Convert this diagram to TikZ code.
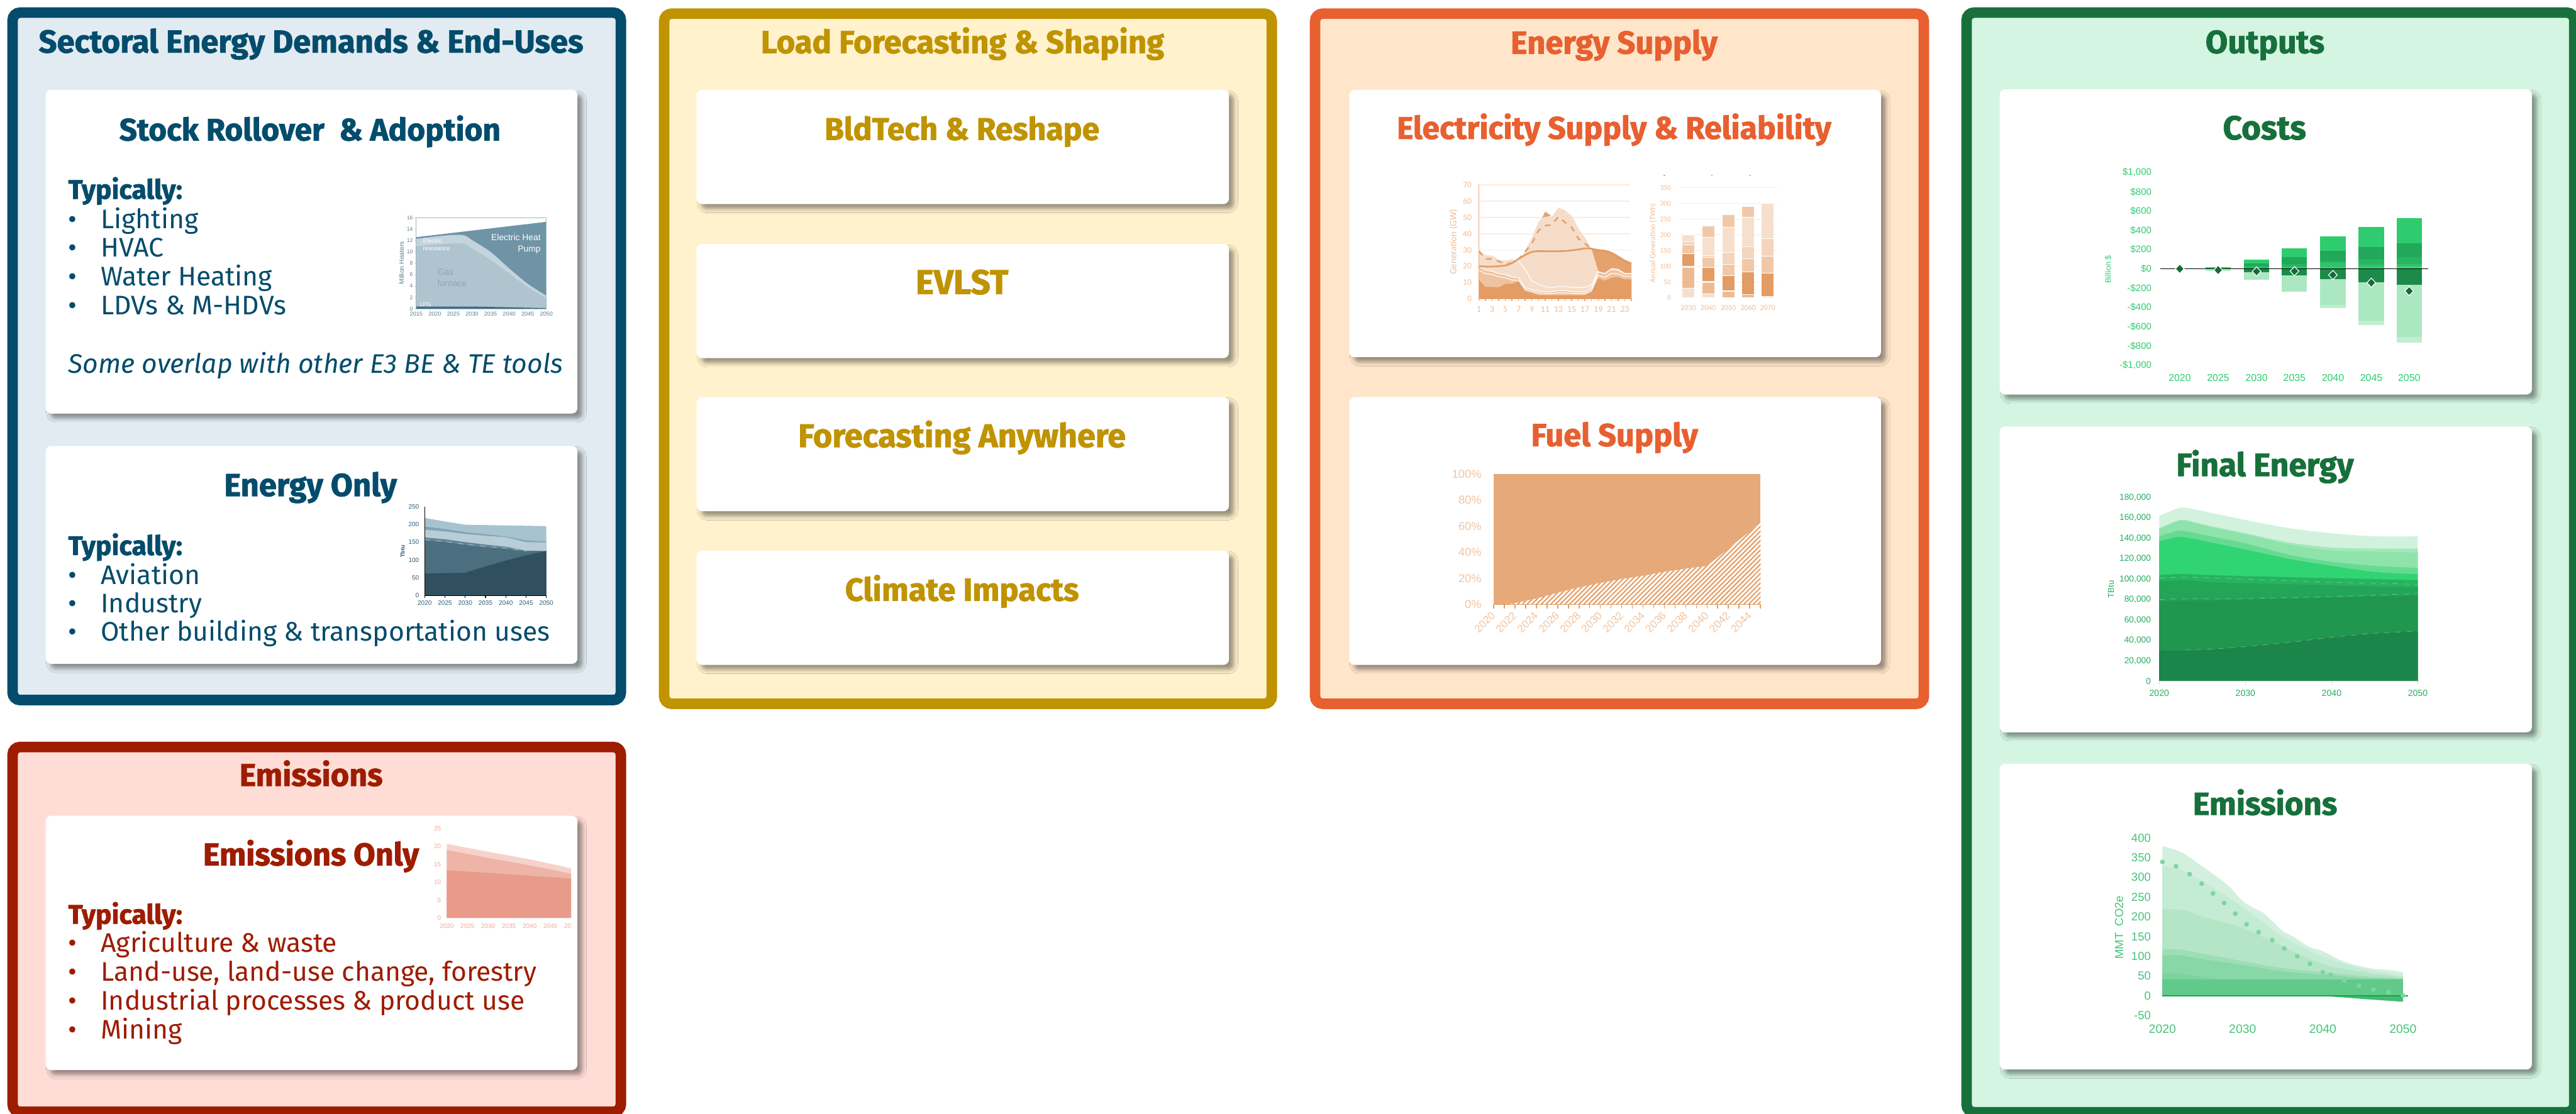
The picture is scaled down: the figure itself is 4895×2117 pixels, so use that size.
\documentclass[tikz,border=0pt]{standalone}
\usepackage{fontspec}
\usepackage{graphicx}
\setmainfont{Fira Sans}
\newfontfamily\headfont{Fira Sans}[BoldFeatures={FakeBold=1.6}]
\newfontfamily\chartfont{Liberation Sans}
\newfontfamily\calfont{Carlito}
\usetikzlibrary{shadows.blur,patterns.meta,shapes.geometric}

% panel colours
\definecolor{sectline}{HTML}{044C6C}
\definecolor{sectfill}{HTML}{E1EBF1}
\definecolor{emline}{HTML}{9E1C00}
\definecolor{emfill}{HTML}{FFDDD6}
\definecolor{loadline}{HTML}{C09300}
\definecolor{loadfill}{HTML}{FFF2CC}
\definecolor{supline}{HTML}{E85F30}
\definecolor{supfill}{HTML}{FFE6CA}
\definecolor{outline}{HTML}{17703B}
\definecolor{outfill}{HTML}{D4F5E2}
% chart colours
\definecolor{hp}{HTML}{6F94A6}
\definecolor{er}{HTML}{C3D4DC}
\definecolor{gas}{HTML}{AFC4CE}
\definecolor{lpg}{HTML}{3F6E85}
\definecolor{stkax}{HTML}{9DB6C3}
\definecolor{stklab}{HTML}{5B8095}
\definecolor{enA}{HTML}{A7C3D0}
\definecolor{enB}{HTML}{7FA5B7}
\definecolor{enC}{HTML}{B8CDD7}
\definecolor{enD}{HTML}{5F8496}
\definecolor{enE}{HTML}{4C6F80}
\definecolor{enF}{HTML}{30505F}
\definecolor{enlab}{HTML}{2C5C77}
\definecolor{emA}{HTML}{F6D3CA}
\definecolor{emB}{HTML}{EEB4A6}
\definecolor{emC}{HTML}{E89B8A}
\definecolor{emlab}{HTML}{F1A898}
\definecolor{elA}{HTML}{E39C63}
\definecolor{elB}{HTML}{EFC3A0}
\definecolor{elC}{HTML}{F6DDCA}
\definecolor{elD}{HTML}{E6A26D}
\definecolor{elgrid}{HTML}{FCEBDD}
\definecolor{ellab}{HTML}{F0BE98}
\definecolor{elax}{HTML}{EFA877}
\definecolor{barA}{HTML}{F6DFCD}
\definecolor{barB}{HTML}{EDBB93}
\definecolor{barB2}{HTML}{F0C8A8}
\definecolor{barC}{HTML}{F4D4BC}
\definecolor{fuel}{HTML}{E6A97A}
\definecolor{fuelhatch}{HTML}{E39C63}
\definecolor{fuellab}{HTML}{F2C4A0}
\definecolor{cB}{HTML}{2ECC6E}
\definecolor{cM}{HTML}{22A85A}
\definecolor{cM2}{HTML}{27B562}
\definecolor{cT}{HTML}{2FC46B}
\definecolor{cT2}{HTML}{3ED37C}
\definecolor{cD}{HTML}{1C8A48}
\definecolor{cL}{HTML}{ABE8C1}
\definecolor{cL2}{HTML}{BFEED0}
\definecolor{costlab}{HTML}{2ECC71}
\definecolor{costdia}{HTML}{17693A}
\definecolor{fe1}{HTML}{1C8549}
\definecolor{fe2}{HTML}{20964F}
\definecolor{fe3}{HTML}{23A457}
\definecolor{fe4}{HTML}{27B35F}
\definecolor{fe5}{HTML}{31D472}
\definecolor{fe6}{HTML}{66DA93}
\definecolor{fe7}{HTML}{8DE3A9}
\definecolor{fe8}{HTML}{A3E8BA}
\definecolor{fe9}{HTML}{D2F2DE}
\definecolor{felab}{HTML}{27AE60}
\definecolor{eo1}{HTML}{61C98A}
\definecolor{eo2}{HTML}{7CD39E}
\definecolor{eo3}{HTML}{88D7A6}
\definecolor{eo4}{HTML}{9EDEB6}
\definecolor{eo5}{HTML}{B4E5C7}
\definecolor{eo6}{HTML}{C4EBD3}
\definecolor{eo7}{HTML}{D3F0DE}
\definecolor{eoneg}{HTML}{44BC73}
\definecolor{eozero}{HTML}{0FA84A}
\definecolor{eodot}{HTML}{7DD59F}
\definecolor{eolab}{HTML}{48C47B}

\newcommand{\fs}[1]{\fontsize{#1}{#1}\selectfont}
\newcommand{\ttl}[2]{\resizebox{#1}{!}{\headfont\bfseries #2}}

\begin{document}
\begin{tikzpicture}[x=0.01cm, y=-0.01cm,
    panel/.style 2 args={draw=#1, fill=#2, line width=0.2cm, rounded corners=4pt, anchor=north west, inner sep=0pt},
    card/.style={fill=white, rounded corners=3pt, anchor=north west, inner sep=0pt,
      blur shadow={shadow xshift=2.6pt, shadow yshift=-2.6pt, shadow blur radius=2.2pt, shadow opacity=40}},
    title/.style={anchor=base, inner sep=0pt},
    body/.style={anchor=base west, inner sep=0pt, font=\fs{14.5}},
    ticklab/.style={inner sep=0pt, font=\chartfont\fs{#1}},
  ]
  \useasboundingbox (0,0) rectangle (4895,2117);
  \fill[white] (0,0) rectangle (4895,2117);

  % ---------------- Sectoral energy demands
  \node[panel={sectline}{sectfill}, minimum width=11.55cm, minimum height=13.06cm] (sect) at (14,14) {};
  \node[title, text=sectline] (sect-title) at (591,100) {\ttl{10.34cm}{Sectoral Energy Demands \& End-Uses}};

  \node[card, minimum width=10.10cm, minimum height=6.15cm] (stock) at (86,170) {};
  \node[title, text=sectline] (stock-title) at (589,267) {\ttl{7.24cm}{Stock Rollover~ \& Adoption}};
  \node[body, text=sectline] (stock-typ) at (129,378) {\headfont\bfseries Typically:};
  \foreach \t [count=\i] in {Lighting, HVAC, Water Heating, LDVs \& M-HDVs} {
    \node[body, text=sectline] (stock-dot\i) at (129,{379.5+54.6*\i}) {•};
    \node[body, text=sectline] (stock-item\i) at (191,{379.5+54.6*\i}) {\t};
  }
  \node[body, text=sectline] (stock-note) at (129,709) {\itshape Some overlap with other E3 BE \& TE tools};

  % stock rollover chart
  \begin{scope}[shift={(791,587)}, x=0.07057cm, y=0.108cm]
    \fill[hp] (0,0) -- (0,12.6) -- (35,15.3) -- (35,0) -- cycle;
    \fill[er] (0,0) -- plot[smooth] coordinates {(0,12.3) (5,12.7) (10,13.0) (13,12.9) (15,12.1) (20,10.0) (25,7.1) (30,4.4) (35,2.3)} -- (35,0) -- cycle;
    \fill[gas] (0,0) -- plot[smooth] coordinates {(0,11.0) (5,11.3) (10,11.5) (13,11.4) (15,10.6) (20,8.6) (25,6.2) (30,3.8) (35,1.85)} -- (35,0) -- cycle;
    \fill[lpg] (0,0) -- (0,0.4) -- (15,0.4) -- (25,0.28) -- (35,0.12) -- (35,0) -- cycle;
    \draw[stkax, line width=0.3pt] (0,0) -- (0,16) -- (35,16) -- (35,0) -- (0,0);
    \foreach \v in {0,2,...,16} {
      \draw[stkax, line width=0.3pt] (0,\v) -- (-0.4,\v);
      \node[ticklab=2.9, text=stklab, anchor=east] (stk-y\v) at (-0.85,\v) {\v};
    }
    \foreach \yr in {2015,2020,...,2050}
      \node[ticklab=3.1, text=stklab, anchor=base] (stk-x\yr) at ({\yr-2015},-1.3) {\yr};
  \end{scope}
  \node[ticklab=4.7, text=white, anchor=base east] (hp-lab1) at (1028,457) {Electric Heat};
  \node[ticklab=4.7, text=white, anchor=base east] (hp-lab2) at (1028,479) {Pump};
  \node[ticklab=3.2, text=white, anchor=base west] (er-lab1) at (803,462) {Electric};
  \node[ticklab=3.2, text=white, anchor=base west] (er-lab2) at (803,476) {resistance};
  \node[ticklab=4.7, text=stklab!70, anchor=base west] (gas-lab1) at (831,523) {Gas};
  \node[ticklab=4.7, text=stklab!70, anchor=base west] (gas-lab2) at (831,544) {furnace};
  \node[ticklab=3.1, text=white, anchor=base west] (lpg-lab) at (797,582) {LPG};
  \node[ticklab=3.5, text=stklab, rotate=90] (stk-ylab) at (763,500) {Million Heaters};

  \node[card, minimum width=10.10cm, minimum height=4.14cm] (energy) at (86,847) {};
  \node[title, text=sectline] (energy-title) at (590,943) {\ttl{3.28cm}{Energy Only}};
  \node[body, text=sectline] (energy-typ) at (129,1055) {\headfont\bfseries Typically:};
  \foreach \t [count=\i] in {Aviation, Industry, Other building \& transportation uses} {
    \node[body, text=sectline] (energy-dot\i) at (129,{1056+54.2*\i}) {•};
    \node[body, text=sectline] (energy-item\i) at (191,{1056+54.2*\i}) {\t};
  }

  % energy only chart
  \begin{scope}[shift={(807,1132)}, x=0.077cm, y=0.00676cm]
    \fill[enA] (0,0) -- (0,218) -- (5,208) -- (10,199) -- (15,198) -- (20,197) -- (25,196) -- (30,195) -- (30,0) -- cycle;
    \fill[enB] (0,0) -- (0,194) -- (5,187) -- (10,178) -- (15,172) -- (20,166) -- (25,155) -- (30,152) -- (30,0) -- cycle;
    \fill[enC] (0,0) -- (0,185) -- (5,180) -- (10,173) -- (15,168) -- (20,164) -- (25,150) -- (30,149) -- (30,0) -- cycle;
    \fill[enD] (0,0) -- (0,163) -- (5,158) -- (10,150) -- (15,143) -- (20,137) -- (25,126) -- (30,125) -- (30,0) -- cycle;
    \fill[enE] (0,0) -- (0,155) -- (5,150) -- (10,142) -- (15,136) -- (20,131) -- (25,124) -- (30,125) -- (30,0) -- cycle;
    \fill[enF] (0,0) -- (0,62) -- (5,63) -- (10,64) -- (15,82) -- (20,98) -- (25,113) -- (30,125) -- (30,0) -- cycle;
    \draw[white, opacity=0.5, dashed, line width=0.3pt] (0,157) -- (5,152) -- (10,144) -- (15,138) -- (20,133) -- (25,125);
    \draw[black, line width=0.4pt] (0,250) -- (0,0) -- (30,0);
    \foreach \v in {0,50,...,250}
      \node[ticklab=3.4, text=enlab, anchor=east] (en-y\v) at (-1.3,\v) {\v};
    \foreach \t in {0,5,...,30} {
      \draw[black, line width=0.4pt] (\t,0) -- (\t,-6);
      \node[ticklab=3.4, text=enlab, anchor=base] (en-x\t) at (\t,-27) {\the\numexpr2020+\t\relax};
    }
  \end{scope}
  \node[ticklab=3.1, text=enlab, rotate=90] (en-ylab) at (765,1048) {\bfseries Tbtu};

  % ---------------- Emissions
  \node[panel={emline}{emfill}, minimum width=11.55cm, minimum height=6.93cm] (emis) at (14,1410) {};
  \node[title, text=emline] (emis-title) at (591,1494) {\ttl{2.72cm}{Emissions}};
  \node[card, minimum width=10.10cm, minimum height=4.83cm] (emonly) at (86,1550) {};
  \node[title, text=emline] (emonly-title) at (591,1645) {\ttl{4.10cm}{Emissions Only}};
  \node[body, text=emline] (emonly-typ) at (129,1756) {\headfont\bfseries Typically:};
  \foreach \t [count=\i] in {Agriculture \& waste, {Land-use, land-use change, forestry}, Industrial processes \& product use, Mining} {
    \node[body, text=emline] (emonly-dot\i) at (129,{1755+55*\i}) {•};
    \node[body, text=emline] (emonly-item\i) at (191,{1755+55*\i}) {\t};
  }
  \begin{scope}[shift={(849,1745)}, x=0.0787cm, y=0.068cm]
    \fill[emA] (0,0) -- (0,20.7) -- (10,18.5) -- (20,16.4) -- (30,13.9) -- (30,0) -- cycle;
    \fill[emB] (0,0) -- (0,19.0) -- (10,16.8) -- (20,14.7) -- (30,12.4) -- (30,0) -- cycle;
    \fill[emC] (0,0) -- (0,13.3) -- (10,12.6) -- (20,11.8) -- (30,11.0) -- (30,0) -- cycle;
    \foreach \v in {0,5,...,25}
      \node[ticklab=3.4, text=emlab, anchor=east] (em-y\v) at (-1.3,\v) {\v};
    \foreach \t in {0,5,...,25}
      \node[ticklab=3.4, text=emlab, anchor=base] (em-x\t) at (\t,-2.8) {\the\numexpr2020+\t\relax};
    \node[ticklab=3.4, text=emlab, anchor=base west] (em-x30) at (28.2,-2.8) {20};
  \end{scope}

  % ---------------- Load forecasting & shaping
  \node[panel={loadline}{loadfill}, minimum width=11.54cm, minimum height=13.11cm] (load) at (1252,16) {};
  \node[title, text=loadline] (load-title) at (1829,101) {\ttl{7.66cm}{Load Forecasting \& Shaping}};
  \foreach \name/\txt/\w/\top [count=\i] in {bldtech/BldTech \& Reshape/5.22cm/170, evlst/EVLST/1.76cm/463,
      anywhere/Forecasting Anywhere/6.22cm/754, climate/Climate Impacts/4.44cm/1046} {
    \node[card, minimum width=10.11cm, minimum height=2.17cm] (\name) at (1323,\top) {};
    \node[title, text=loadline] (\name-title) at (1828,{\top+96}) {\ttl{\w}{\txt}};
  }

  % ---------------- Energy supply
  \node[panel={supline}{supfill}, minimum width=11.56cm, minimum height=13.11cm] (supply) at (2489,16) {};
  \node[title, text=supline] (supply-title) at (3067,102) {\ttl{3.93cm}{Energy Supply}};
  \node[card, minimum width=10.10cm, minimum height=5.08cm] (elec) at (2563,170) {};
  \node[title, text=supline] (elec-title) at (3067,264) {\ttl{8.25cm}{Electricity Supply \& Reliability}};
  \node[card, minimum width=10.10cm, minimum height=5.09cm] (fuel) at (2563,754) {};
  \node[title, text=supline] (fuel-title) at (3068,848) {\ttl{3.17cm}{Fuel Supply}};

  % hourly dispatch chart
  \begin{scope}[shift={(2810,568)}, x=0.126cm, y=0.0309cm]
    \foreach \v in {10,20,...,70}
      \draw[elgrid, line width=0.5pt] (0,\v) -- (22.8,\v);
    \fill[elC] (0,0) -- plot coordinates {(0,29.5) (1,26.8) (2,26.6) (3,24) (4,23.5) (5,24.4) (6,23) (7,29.5) (8,37.6) (9,47.3) (10,52.2) (11,50.5) (12,56.2) (13,54.3) (14,51) (15,43.5) (16,37.6) (17,30.6) (18,17) (19,16) (20,19) (21,18.5) (22,16) (23,16)} -- (23,0) -- cycle;
    \fill[elD] (17,30.6) -- (18,30.2) -- (19,29.5) -- (20,28.4) -- (21,25.7) -- (22,23) -- (23,21.9) -- (23,16) -- (22,16) -- (21,18.5) -- (20,19) -- (19,16) -- (18,17) -- cycle;
    \fill[elD] (9.6,50) -- (10,53.6) -- (10.9,51.2) -- cycle;
    \fill[elB] (0,0) -- plot coordinates {(0,19.8) (1,17.6) (2,17) (3,15.4) (4,14.9) (5,13.3) (6,13) (7,6.8) (8,5.7) (9,4.6) (10,4.3) (11,4.4) (12,5) (13,5) (14,4.4) (15,4.4) (16,4.4) (17,6.3) (18,16.5) (19,15.4) (20,18.1) (21,17.6) (22,15.4) (23,15.4)} -- (23,0) -- cycle;
    \fill[elA] (0,0) -- plot coordinates {(0,11.7) (1,7.3) (2,7.3) (3,7) (4,9.2) (5,9.2) (6,10.6) (7,4.6) (8,3.6) (9,2.2) (10,2.2) (11,2.2) (12,2.2) (13,2.2) (14,2.2) (15,2.2) (16,2.2) (17,4.1) (18,12.7) (19,11.1) (20,13) (21,13.3) (22,12) (23,12)} -- (23,0) -- cycle;
    \draw[white, line width=0.4pt] plot coordinates {(0,19.8) (1,17.6) (2,17) (3,15.4) (4,14.9) (5,13.3) (6,13) (7,6.8) (8,5.7) (9,4.6) (10,4.3) (11,4.4) (12,5) (13,5) (14,4.4) (15,4.4) (16,4.4) (17,6.3) (18,16.5) (19,15.4) (20,18.1) (21,17.6) (22,15.4) (23,15.4)};
    \draw[white, line width=0.4pt] plot coordinates {(0,17.5) (1,15.5) (2,15) (3,13.5) (4,13) (5,11.5) (6,11.5) (7,5.8) (8,4.6) (9,3.5) (10,3.3) (11,3.3) (12,3.6) (13,3.6) (14,3.3) (15,3.3) (16,3.3) (17,5.2) (18,14.5) (19,13.2) (20,15.6) (21,15.4) (22,13.7) (23,13.7)};
    \draw[white, line width=0.4pt] (6,23) -- (7,18) -- (8,11) -- (9,9) -- (10,7.5) -- (11,7) -- (12,7.5) -- (13,7.5) -- (14,7) -- (15,7) -- (16,7) -- (17,8.5) -- (18,17);
    \draw[elA, dashed, line width=0.8pt] plot coordinates {(0,29.5) (1,24.5) (2,24.5) (3,23) (4,21.5) (5,22) (6,24.5) (7,29) (8,34) (9,42) (10,45) (11,45.5) (12,50.5) (13,47) (14,44) (15,37) (16,34) (17,30.5) (18,29.5) (19,28.5) (20,27.5) (21,25) (22,22.5) (23,21.5)};
    \draw[elA, line width=0.9pt] plot[smooth] coordinates {(0,20) (2,19.8) (4,20.5) (5,22) (6,24.5) (7,27) (8,28.8) (9,29.3) (11,29.2) (13,29.4) (15,30.3) (16,31) (17,30.8) (18,30) (19,29.5) (20,28.3) (21,26) (22,23.5) (23,21.8)};
    \draw[elax, line width=0.5pt] (0,70) -- (0,0) -- (23,0);
    \foreach \h in {0,...,23}
      \draw[elax, line width=0.5pt] (\h,0) -- (\h,-1.5);
    \foreach \v in {0,10,...,70}
      \node[inner sep=0pt, font=\calfont\fs{4.6}, text=ellab, anchor=east] (el-y\v) at (-1.03,\v) {\v};
    \foreach \h in {1,3,...,23}
      \node[inner sep=0pt, font=\calfont\fs{4.8}, text=ellab, anchor=base] (el-x\h) at ({\h-1},-8.1) {\h};
  \end{scope}
  \node[inner sep=0pt, font=\calfont\fs{5.1}, text=ellab, rotate=90] (el-ylab) at (2762,460) {Generation (GW)};

  % annual generation bars
  \begin{scope}[shift={(0,566)}, x=0.01cm, y=0.00598cm]
    \foreach \v in {50,100,...,350}
      \draw[elgrid, line width=0.5pt] (3190,\v) -- (3377,\v);
    \foreach \cx/\lo/\hi/\c in {
        3208/0/30/barA, 3208/30/97/barB, 3208/97/100/barA, 3208/100/140/elA, 3208/140/168/barB2, 3208/168/178/barC, 3208/178/200/barA,
        3246/0/12/barA, 3246/12/48/barB, 3246/48/53/barA, 3246/53/97/elA, 3246/97/128/barB2, 3246/128/135/barC, 3246/135/192/barA, 3246/192/228/barB2,
        3284/0/20/barB, 3284/20/22/barA, 3284/22/70/elA, 3284/70/107/barB2, 3284/107/145/barC, 3284/145/225/barA, 3284/225/263/barB2,
        3322/0/10/barB, 3322/10/83/elA, 3322/83/125/barB2, 3322/125/163/barC, 3322/163/255/barA, 3322/255/290/barB2,
        3359/0/5/barA, 3359/5/78/elA, 3359/78/133/barB2, 3359/133/188/barC, 3359/188/300/barA}
      \filldraw[fill=\c, draw=white, line width=0.3pt] ({\cx-12},\lo) rectangle ({\cx+12},\hi);
    \foreach \v in {0,50,...,350}
      \node[inner sep=0pt, font=\calfont\fs{3.9}, text=ellab, anchor=east] (bar-y\v) at (3176,\v) {\v};
    \foreach \cx/\yr in {3208/2030, 3246/2040, 3284/2050, 3322/2060, 3359/2070}
      \node[inner sep=0pt, font=\calfont\fs{4.1}, text=ellab, anchor=base] (bar-x\yr) at (\cx,-40) {\yr};
    \foreach \mx in {3163,3253,3326}
      \draw[elax, line width=0.6pt] (\mx-1.5,389) -- (\mx+1.5,389);
  \end{scope}
  \node[inner sep=0pt, font=\calfont\fs{4.1}, text=ellab, rotate=90] (bar-ylab) at (3141,462) {Annual Generation (TWh)};

  % fuel supply chart
  \begin{scope}[shift={(2838,1149)}, x=0.2028cm, y=0.02475cm]
    \fill[fuel] (0,0) rectangle (25,100);
    \fill[white] (1.3,0) -- (2,1) -- (4,4.5) -- (6,9) -- (8,13) -- (10,16.5) -- (12,19.5) -- (14,22) -- (16,25) -- (18,27.5) -- (20,29.5) -- (22,43) -- (24,56) -- (25,63) -- (25,0) -- cycle;
    \fill[pattern={Lines[angle=45, distance=1.8pt, line width=0.7pt]}, pattern color=fuelhatch]
      (1.3,0) -- (2,1) -- (4,4.5) -- (6,9) -- (8,13) -- (10,16.5) -- (12,19.5) -- (14,22) -- (16,25) -- (18,27.5) -- (20,29.5) -- (22,43) -- (24,56) -- (25,63) -- (25,0) -- cycle;
    \draw[fuelhatch, line width=0.6pt] (0,0) -- (25,0);
    \foreach \t in {0,...,25}
      \draw[fuelhatch, line width=0.6pt] (\t,0) -- (\t,-3.2);
    \foreach \v in {0,20,...,100}
      \node[ticklab=6.2, text=fuellab, anchor=east] (fu-y\v) at (-1.1,\v) {\v\%};
    \foreach \t in {0,2,...,24}
      \node[ticklab=5.8, text=fuellab, anchor=east, rotate=45] (fu-x\t) at (\t,-7) {\the\numexpr2020+\t\relax};
  \end{scope}

  % ---------------- Outputs
  \node[panel={outline}{outfill}, minimum width=11.54cm, minimum height=20.89cm] (outputs) at (3727,14) {};
  \node[title, text=outline] (outputs-title) at (4304,101) {\ttl{2.26cm}{Outputs}};
  \node[card, minimum width=10.11cm, minimum height=5.80cm] (costs) at (3799,169) {};
  \node[title, text=outline] (costs-title) at (4303,265) {\ttl{1.58cm}{Costs}};
  \node[card, minimum width=10.11cm, minimum height=5.81cm] (final) at (3799,810) {};
  \node[title, text=outline] (final-title) at (4304,905) {\ttl{3.37cm}{Final Energy}};
  \node[card, minimum width=10.11cm, minimum height=5.81cm] (outemis) at (3799,1451) {};
  \node[title, text=outline] (outemis-title) at (4304,1549) {\ttl{2.74cm}{Emissions}};

  % costs chart
  \begin{scope}[shift={(0,511)}, x=0.01cm, y=0.001835cm]
    \foreach \cx/\lo/\hi/\c in {
        4215/5/15/cB, 4215/0/5/cM, 4215/-15/0/cL2, 4215/-25/-15/cL,
        4288/55/93/cB, 4288/27/55/cM, 4288/9/27/cM2, 4288/0/9/cT, 4288/-35/0/cD, 4288/-116/-35/cL,
        4360/120/213/cB, 4360/51/120/cM, 4360/24/51/cM2, 4360/0/24/cT, 4360/-67/0/cD, 4360/-236/-67/cL,
        4433/187/336/cB, 4433/82/187/cM, 4433/60/82/cM2, 4433/15/60/cT, 4433/0/15/cT2, 4433/-107/0/cD, 4433/-376/-107/cL, 4433/-404/-376/cL2,
        4506/227/433/cB, 4506/102/227/cM, 4506/45/102/cM2, 4506/15/45/cT, 4506/0/15/cT2, 4506/-140/0/cD, 4506/-540/-140/cL, 4506/-582/-540/cL2,
        4578/264/529/cB, 4578/120/264/cM, 4578/51/120/cM2, 4578/24/51/cT, 4578/0/24/cT2, 4578/-167/0/cD, 4578/-704/-167/cL, 4578/-767/-704/cL2}
      \fill[\c] ({\cx-24},\lo) rectangle ({\cx+24},\hi);
    \draw[black, line width=0.6pt] (4105,0) -- (4614,0);
    \foreach \cx/\yr/\net in {4142/2020/0, 4215/2025/-13, 4288/2030/-27, 4360/2035/-24, 4433/2040/-64, 4506/2045/-144, 4578/2050/-231} {
      \node[diamond, fill=costdia, draw=white, line width=0.4pt, inner sep=0pt, minimum width=0.17cm, minimum height=0.18cm] (dia\yr) at (\cx,\net) {};
      \node[ticklab=5.4, text=costlab, anchor=base] (co-x\yr) at (\cx,-1166) {\yr};
    }
    \foreach \v/\lab in {1000/{\$1,000}, 800/{\$800}, 600/{\$600}, 400/{\$400}, 200/{\$200}, 0/{\$0},
        -200/{-\$200}, -400/{-\$400}, -600/{-\$600}, -800/{-\$800}, -1000/{-\$1,000}}
      \node[ticklab=5.1, text=costlab, anchor=east] (co-y\v) at (4089,\v) {\lab};
  \end{scope}
  \node[ticklab=4.3, text=costlab, rotate=90] (co-ylab) at (4006,512) {Billion \$};

  % final energy chart
  \begin{scope}[shift={(4103,1295)}, x=0.1637cm, y=0.0194cm]
    \fill[fe9] (0,0) -- plot[smooth] coordinates {(0,162) (2,169) (3,170) (6,165) (10,158) (15,150) (20,145) (25,142) (30,142)} -- (30,0) -- cycle;
    \fill[fe8] (0,0) -- plot[smooth] coordinates {(0,150) (2,157) (3,158) (6,152) (10,145) (15,136) (20,131) (25,130) (30,130)} -- (30,0) -- cycle;
    \fill[fe7] (0,0) -- plot[smooth] coordinates {(0,149) (2,156) (3,157) (6,151) (10,144) (15,134) (20,128) (25,127) (30,126)} -- (30,0) -- cycle;
    \fill[fe6] (0,0) -- plot[smooth] coordinates {(0,142) (2,147) (3,147) (6,142) (10,135) (15,124) (20,117) (25,113) (30,111)} -- (30,0) -- cycle;
    \fill[fe5] (0,0) -- plot[smooth] coordinates {(0,137) (2,141) (3,141) (6,136) (10,129) (15,120) (20,113) (25,107) (30,105)} -- (30,0) -- cycle;
    \fill[fe4] (0,0) -- plot[smooth] coordinates {(0,104) (2,105) (3,105) (6,104) (10,103) (15,102) (20,101) (25,100) (30,99)} -- (30,0) -- cycle;
    \fill[fe3] (0,0) -- plot[smooth] coordinates {(0,98) (2,99) (3,99) (6,97) (10,96) (15,95) (20,94) (25,93) (30,92)} -- (30,0) -- cycle;
    \fill[fe2] (0,0) -- plot[smooth] coordinates {(0,78) (2,79) (3,79) (6,79) (10,80) (15,81) (20,82) (25,83) (30,84)} -- (30,0) -- cycle;
    \fill[fe1] (0,0) -- plot[smooth] coordinates {(0,30) (2,30) (3,30) (6,31) (10,34) (15,38) (20,43) (25,47) (30,49)} -- (30,0) -- cycle;
    \draw[white, opacity=0.3, dashed, line width=0.3pt] plot[smooth] coordinates {(0,101) (3,102) (10,100) (20,97) (30,95)};
    \draw[white, opacity=0.3, dashed, line width=0.3pt] plot[smooth] coordinates {(0,80) (3,81) (10,81) (20,83) (30,86)};
    \draw[white, opacity=0.3, dashed, line width=0.3pt] plot[smooth] coordinates {(3,31) (6,31.5) (10,34) (15,38) (20,43) (25,47) (30,49)};
    \draw[black!15, line width=0.5pt] (0,0) -- (30,0);
    \foreach \t in {0,10,20,30} {
      \draw[black!15, line width=0.5pt] (\t,0) -- (\t,-3);
      \node[ticklab=4.8, text=felab, anchor=base] (fe-x\t) at (\t,-14.4) {\the\numexpr2020+\t\relax};
    }
    \foreach \v/\lab in {0/0, 20/{20,000}, 40/{40,000}, 60/{60,000}, 80/{80,000}, 100/{100,000}, 120/{120,000}, 140/{140,000}, 160/{160,000}, 180/{180,000}}
      \node[ticklab=4.7, text=felab, anchor=east] (fe-y\v) at (-0.92,\v) {\lab};
    \node[ticklab=4.5, text=felab, rotate=90] (fe-ylab) at (-5.6,90) {TBtu};
  \end{scope}

  % emissions chart
  \begin{scope}[shift={(4109,1893)}, x=0.1523cm, y=0.0075cm]
    \fill[eo7] (0,0) -- plot[smooth] coordinates {(0,379) (1.8,368) (2.8,359) (4.6,333) (6.2,310) (8.2,279) (9.9,242) (11.4,222) (12.7,208) (15,164) (16.3,150) (18.3,124) (20,113) (22,92) (24,78) (26.4,68) (28,66) (30,60)} -- (30,0) -- cycle;
    \fill[eo6] (0,0) -- plot[smooth] coordinates {(0,328) (2,322) (5,290) (10,225) (15,150) (20,100) (25,68) (30,52)} -- (30,0) -- cycle;
    \fill[eo5] (0,0) -- plot[smooth] coordinates {(0,220) (2,218) (3,215) (5,200) (10,172) (15,125) (20,80) (25,60) (30,47)} -- (30,0) -- cycle;
    \fill[eo4] (0,0) -- plot[smooth] coordinates {(0,117) (2,118) (5,107) (10,88) (15,70) (20,60) (25,50) (30,44)} -- (30,0) -- cycle;
    \fill[eo3] (0,0) -- plot[smooth] coordinates {(0,102) (2,103) (5,93) (10,78) (15,62) (20,53) (25,46) (30,42)} -- (30,0) -- cycle;
    \fill[eo2] (0,0) -- (0,57) -- (2,57) -- (4,50) -- (7,42) -- (30,41) -- (30,0) -- cycle;
    \fill[eo1] (0,0) rectangle (30,41);
    \fill[eoneg] (20,0) -- (25,-8) -- (30,-15) -- (30,0) -- cycle;
    \draw[eozero, line width=0.7pt] (0,0) -- (30.6,0);
    \foreach \px/\py in {0/339, 1.7/328, 3.4/308, 4.9/284, 6.3/259, 7.7/235, 9.1/208, 10.5/181, 12/161, 13.7/141, 15.2/120, 16.8/100, 18.4/81, 20/60, 21/53, 22.7/39, 24.5/26, 26.3/16, 28.2/9, 30/1}
      \fill[eodot] (\px,\py) circle[radius=1.3pt];
    \foreach \v in {-50,0,50,...,400}
      \node[ticklab=6.3, text=eolab, anchor=east] (eo-y\v) at (-1.4,\v) {\v};
    \foreach \t in {0,10,20,30}
      \node[ticklab=6.6, text=eolab, anchor=base] (eo-x\t) at (\t,-95) {\the\numexpr2020+\t\relax};
    \node[ticklab=6.3, text=eolab, rotate=90] (eo-ylab) at (-5.4,173) {MMT~ CO2e};
  \end{scope}
\end{tikzpicture}
\end{document}
